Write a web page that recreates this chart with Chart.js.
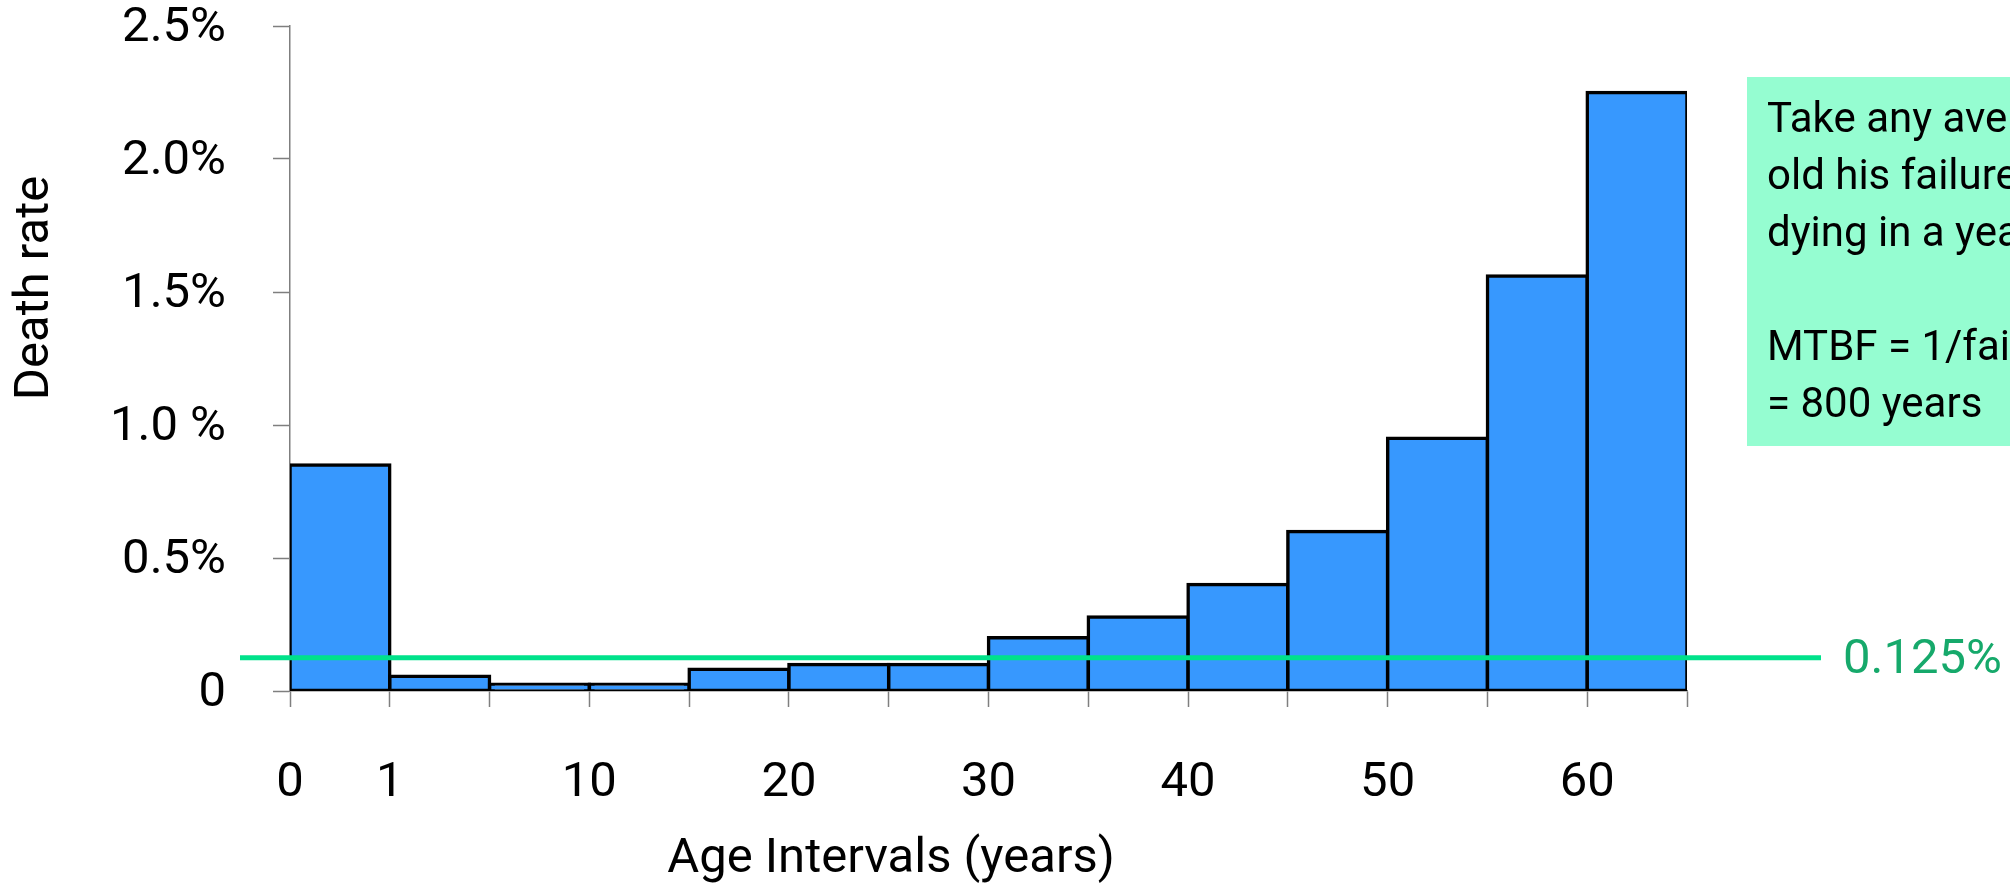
<!DOCTYPE html>
<html>
<head>
<meta charset="utf-8">
<title>Death rate by age interval</title>
<script src="https://cdn.jsdelivr.net/npm/chart.js@4.4.1/dist/chart.umd.min.js"></script>
<style>
  html, body { margin: 0; padding: 0; background: #fff; }
  #wrap { width: 2010px; height: 883px; }
</style>
</head>
<body>
<div id="wrap"><canvas id="deathChart" width="2010" height="883"></canvas></div>
<script>
// age bins (years) and the death rate of each bin, in %
const ageBins = ['0-1', '1-5', '5-10', '10-15', '15-20', '20-25', '25-30', '30-35', '35-40', '40-45', '45-50', '50-55', '55-60', '60-65'];
const deathRate = [0.85, 0.055, 0.025, 0.025, 0.082, 0.10, 0.10, 0.20, 0.278, 0.40, 0.60, 0.95, 1.56, 2.25];

// one label per bin edge, blank where the slide shows none
const edgeLabels = ['0', '1', '', '10', '', '20', '', '30', '', '40', '', '50', '', '60', ''];
const rateTicks = ['0', '0.5%', '1.0 %', '1.5%', '2.0%', '2.5%'];

// average failure rate line
const avgRate = 0.125;
const avgLabel = '0.125%';

const noteLines = ['Take any average', 'old his failure', 'dying in a year', '', 'MTBF = 1/failure', '= 800 years'];

const FONT = 'Roboto';
const axisGray = '#7f7f7f';

const annotations = {
    id: 'annotations',
    afterDraw(chart) {
        const { ctx, chartArea, scales } = chart;
        const y = scales.y.getPixelForValue(avgRate);
        ctx.save();

        // average line runs past both ends of the axis
        ctx.strokeStyle = '#00e28b';
        ctx.lineWidth = 5;
        ctx.beginPath();
        ctx.moveTo(chartArea.left - 50, y);
        ctx.lineTo(chartArea.right + 134, y);
        ctx.stroke();

        ctx.fillStyle = '#16a96b';
        ctx.font = `49px ${FONT}`;
        ctx.textAlign = 'left';
        ctx.textBaseline = 'middle';
        ctx.fillText(avgLabel, chartArea.right + 156, y + 3);

        // note box, cut off by the right edge like on the slide
        const boxLeft = chartArea.right + 60;
        ctx.fillStyle = '#95fdd1';
        ctx.fillRect(boxLeft, 77, chart.width - boxLeft, 369);
        ctx.fillStyle = '#000';
        ctx.font = `42px ${FONT}`;
        ctx.textBaseline = 'alphabetic';
        noteLines.forEach((line, i) => {
            ctx.fillText(line, boxLeft + 20, 132 + i * 57);
        });

        // axis titles (not centred on the axes in the original)
        ctx.font = `49px ${FONT}`;
        ctx.textAlign = 'center';
        ctx.fillText('Age Intervals (years)', 891, 872);

        ctx.translate(36, 288);
        ctx.rotate(-Math.PI / 2);
        ctx.textBaseline = 'middle';
        ctx.fillText('Death rate', 0, 0);

        ctx.restore();
    }
};

const ctx = document.getElementById('deathChart').getContext('2d');
new Chart(ctx, {
    type: 'bar',
    data: {
        datasets: [{
            label: 'Death rate',
            data: deathRate.map((r, i) => ({ x: i + 0.5, y: r })),
            backgroundColor: '#3798fe',
            borderColor: '#000',
            borderWidth: 3.5,
            borderSkipped: false,
            // push the outline half out so it sits on the bar edge, neighbours share one line
            inflateAmount: 1.75,
            categoryPercentage: 1,
            barPercentage: 1,
        }],
    },
    options: {
        responsive: false,
        animation: false,
        layout: { padding: { left: 0, right: 323, top: 26, bottom: 0 } },
        plugins: {
            legend: { display: false },
            tooltip: { enabled: false },
        },
        scales: {
            x: {
                type: 'linear',
                min: 0,
                max: ageBins.length,
                offset: false,
                afterFit: s => { s.height = 192; },
                border: { color: axisGray, width: 1.5 },
                grid: { offset: false, drawOnChartArea: false, tickLength: 16, tickColor: axisGray, tickWidth: 1.5 },
                ticks: {
                    stepSize: 1,
                    autoSkip: false,
                    maxRotation: 0,
                    padding: 47,
                    color: '#000',
                    font: { family: FONT, size: 49 },
                    callback: v => edgeLabels[v] ?? '',
                },
            },
            y: {
                min: 0,
                max: 2.5,
                afterFit: s => {
                    s.width = 290;
                    // label padding would otherwise shrink the plot from the top
                    s.paddingTop = 0;
                    s.paddingBottom = 0;
                },
                border: { color: axisGray, width: 1.5 },
                grid: { drawOnChartArea: false, tickLength: 17, tickColor: axisGray, tickWidth: 1.5 },
                ticks: {
                    stepSize: 0.5,
                    padding: 47,
                    labelOffset: 3,
                    color: '#000',
                    font: { family: FONT, size: 49, lineHeight: 1 },
                    callback: v => rateTicks[Math.round(v / 0.5)],
                },
            },
        },
    },
    plugins: [annotations],
});
</script>
</body>
</html>
